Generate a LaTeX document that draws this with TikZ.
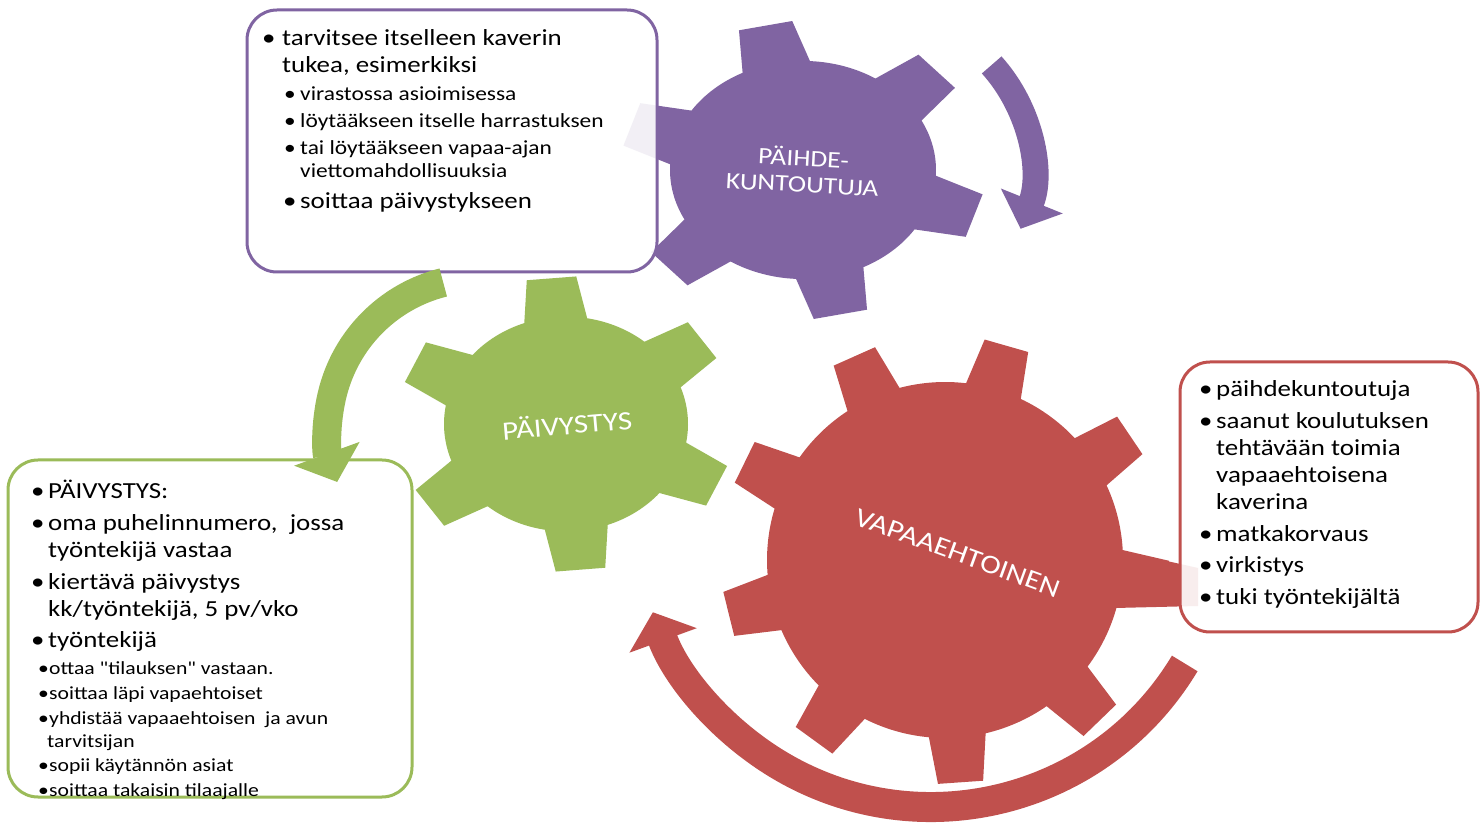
\documentclass[tikz,border=0pt]{standalone}
\usepackage{fontspec}
\setmainfont{Carlito}[FakeStretch=1.17, Ligatures=TeXOff]
\usetikzlibrary{arrows.meta}
\definecolor{gpurple}{HTML}{8064A2}
\definecolor{ggreen}{HTML}{9BBB59}
\definecolor{gred}{HTML}{C0504D}
\newcommand{\bl}[1]{\makebox[#1][l]{\textbullet}}
% #1 colour, #2 centre, #3 yscale, #4 body r, #5 tip R, #6 teeth, #7 first angle, #8 base half angle, #9 tip half angle
\newcommand{\gearshape}[9]{%
  \begin{scope}[shift={#2}, yscale=#3]
    \pgfmathsetmacro{\gsp}{360/#6}
    \fill[#1] ({#7-#8}:#4)
      \foreach \gk in {1,...,#6}{
        -- ({#7+(\gk-1)*\gsp-#9}:#5) -- ({#7+(\gk-1)*\gsp+#9}:#5) -- ({#7+(\gk-1)*\gsp+#8}:#4)
        arc[start angle={#7+(\gk-1)*\gsp+#8}, end angle={#7+\gk*\gsp-#8}, radius=#4]
      } -- cycle;
  \end{scope}}
\tikzset{
  lnL/.style={anchor=base west, inner sep=0pt, font=\fontsize{23}{27}\selectfont},
  lnS/.style={anchor=base west, inner sep=0pt, font=\fontsize{20}{24}\selectfont},
  lnG/.style={anchor=base west, inner sep=0pt, font=\fontsize{18.5}{22}\selectfont},
  glabel/.style={text=white, inner sep=0pt, align=center, font=\fontsize{26.5}{30}\selectfont},
  infobox/.style={draw=#1, line width=3pt, rounded corners=30pt, fill=white, fill opacity=0.9, inner sep=0pt},
  rotarrow/.style n args={3}{draw=#1, line width=#2, line cap=butt, -{Triangle[width=#3, length=30pt]}},
}
\begin{document}
\begin{tikzpicture}[x=1pt, y=1pt]
\useasboundingbox (0,0) rectangle (1480,822);
\fill[white] (0,0) rectangle (1480,822);

% gears
\gearshape{gpurple}{(803,652)}{0.82}{133}{182}{6}{42}{15}{8.6}
\gearshape{ggreen}{(566,398)}{0.88}{122}{168}{6}{35}{15}{8.5}
\gearshape{gred}{(945,262)}{1}{178}{224}{9}{34}{9.2}{5.8}
% long right tooth of the red gear (runs under the red box)
\fill[gred] (1118,272) -- (1198,254) -- (1198,216) -- (1115,214) -- cycle;

% boxes
\node[infobox=gpurple, minimum width=410pt, minimum height=262pt] (bp) at (452,681) {};
\node[infobox=ggreen, minimum width=404pt, minimum height=337pt] (bg) at (210,193.5) {};
\node[infobox=gred, minimum width=298pt, minimum height=270pt] (br) at (1329,325) {};

% purple box text
\node[lnL] (pt1) at (262,776) {\bl{20pt}tarvitsee itselleen kaverin};
\node[lnL] (pt2) at (282,749) {tukea, esimerkiksi};
\node[lnS] (pt3) at (284,721) {\bl{16pt}virastossa asioimisessa};
\node[lnS] (pt4) at (284,694) {\bl{16pt}löytääkseen itselle harrastuksen};
\node[lnS] (pt5) at (284,667) {\bl{16pt}tai löytääkseen vapaa-ajan};
\node[lnS] (pt6) at (300,644) {viettomahdollisuuksia};
\node[lnL] (pt7) at (283,613) {\bl{17pt}soittaa päivystykseen};

% green box text
\node[lnL] (gt1) at (31,323) {\bl{17pt}PÄIVYSTYS:};
\node[lnL] (gt2) at (31,291) {\bl{17pt}oma puhelinnumero, \ jossa};
\node[lnL] (gt3) at (48,264) {työntekijä vastaa};
\node[lnL] (gt4) at (31,232) {\bl{17pt}kiertävä päivystys};
\node[lnL] (gt5) at (48,205) {kk/työntekijä, 5 pv/vko};
\node[lnL] (gt6) at (31,174) {\bl{17pt}työntekijä};
\node[lnG] (gt7) at (38,147) {\bl{11pt}ottaa "tilauksen" vastaan.};
\node[lnG] (gt8) at (38,122) {\bl{11pt}soittaa läpi vapaehtoiset};
\node[lnG] (gt9) at (38,97) {\bl{11pt}yhdistää vapaaehtoisen \ ja avun};
\node[lnG] (gt10) at (47,75) {tarvitsijan};
\node[lnG] (gt11) at (38,51) {\bl{11pt}sopii käytännön asiat};
\node[lnG] (gt12) at (38,26) {\bl{11pt}soittaa takaisin tilaajalle};

% red box text
\node[lnL] (rt1) at (1199,425) {\bl{17pt}päihdekuntoutuja};
\node[lnL] (rt2) at (1199,393) {\bl{17pt}saanut koulutuksen};
\node[lnL] (rt3) at (1216,366) {tehtävään toimia};
\node[lnL] (rt4) at (1216,339) {vapaaehtoisena};
\node[lnL] (rt5) at (1216,312) {kaverina};
\node[lnL] (rt6) at (1199,280) {\bl{17pt}matkakorvaus};
\node[lnL] (rt7) at (1199,249) {\bl{17pt}virkistys};
\node[lnL] (rt8) at (1199,217) {\bl{17pt}tuki työntekijältä};

% gear labels
\node[glabel, rotate=-3, font=\fontsize{23.5}{26}\selectfont] (lp) at (803,652) {PÄIHDE-\\KUNTOUTUJA};
\node[glabel, rotate=5] (lg) at (567,398) {PÄIVYSTYS};
\node[glabel, rotate=-20] (lr) at (958,269) {VAPAAEHTOINEN};

% rotation arrows
\coordinate (pa) at ([shift={(875,652)}]42:157);
\coordinate (ga) at ([shift={(480,392)}]104:152);
\coordinate (ra) at ([shift={(931,311)}]-31:296);
\draw[rotarrow={gpurple}{26pt}{65pt}] (pa) arc[start angle=42, end angle=-22, radius=157];
\draw[rotarrow={ggreen}{29pt}{68pt}] (ga) arc[start angle=104, end angle=200, radius=152];
\draw[rotarrow={gred}{30pt}{70pt}] (ra) arc[start angle=-31, end angle=-160, radius=296];
\end{tikzpicture}
\end{document}
